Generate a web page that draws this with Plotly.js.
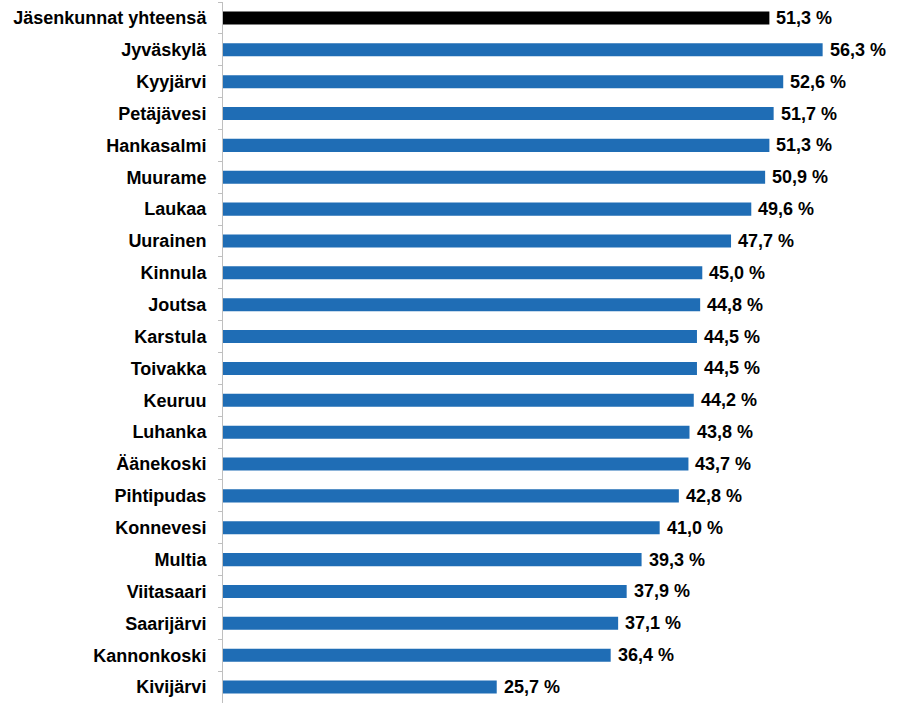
<!DOCTYPE html>
<html>
<head>
<meta charset="utf-8">
<script src="https://cdn.plot.ly/plotly-3.0.1.min.js"></script>
<style>html,body{margin:0;padding:0;background:#fff;}#chart{width:898px;height:706px;}</style>
</head>
<body>
<div id="chart"></div>
<script>
var categories = ["Jäsenkunnat yhteensä","Jyväskylä","Kyyjärvi","Petäjävesi","Hankasalmi","Muurame","Laukaa","Uurainen","Kinnula","Joutsa","Karstula","Toivakka","Keuruu","Luhanka","Äänekoski","Pihtipudas","Konnevesi","Multia","Viitasaari","Saarijärvi","Kannonkoski","Kivijärvi"];
var values = [51.3,56.3,52.6,51.7,51.3,50.9,49.6,47.7,45.0,44.8,44.5,44.5,44.2,43.8,43.7,42.8,41.0,39.3,37.9,37.1,36.4,25.7];
var barColors = categories.map(function(c,i){return i===0 ? "#000000" : "#1F6DB5";});
var labels = values.map(function(v){return v.toFixed(1).replace('.', ',') + ' %';});

var font = "Liberation Sans, Arial, sans-serif";
var annotations = values.map(function(v,i){
  return {x: v, y: categories[i], xref:'x', yref:'y', text:'<b>'+labels[i]+'</b>', showarrow:false,
    xanchor:'left', yanchor:'middle', xshift:5, font:{family:font, size:18, color:'#000'}};
});

var trace = {
  type:'bar', orientation:'h', x: values, y: categories,
  marker:{color: barColors, line:{width:0}},
  width:0.41, hoverinfo:'none'
};
var layout = {
  width:898, height:706,
  margin:{l:223, r:4, t:2, b:3},
  paper_bgcolor:'#fff', plot_bgcolor:'#fff',
  showlegend:false,
  xaxis:{range:[0,63], visible:false, fixedrange:true},
  yaxis:{autorange:'reversed', showline:true, linecolor:'#BFBFBF', linewidth:1,
    ticks:'outside', tickson:'boundaries', ticklen:4, tickcolor:'#BFBFBF',
    ticklabelstandoff:12, showgrid:false, zeroline:false,
    tickfont:{family:font, size:18, color:'#000', weight:'bold'}},
  annotations: annotations
};
Plotly.newPlot('chart',[trace],layout,{staticPlot:true});
</script>
</body>
</html>
